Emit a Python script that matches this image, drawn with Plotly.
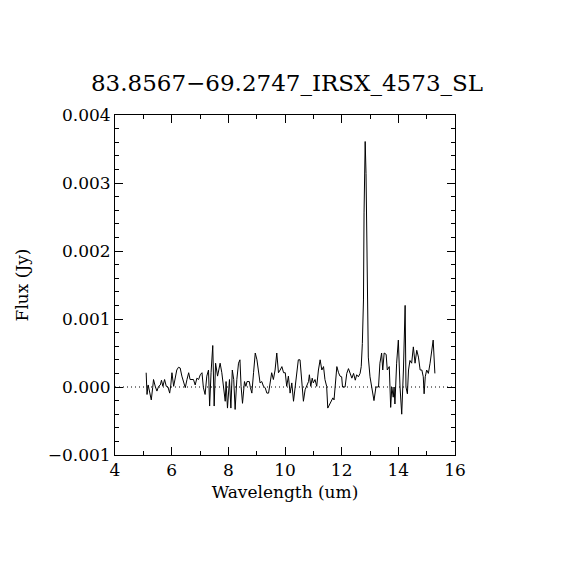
import plotly.graph_objects as go

# IRS SL spectrum
wave = [5.10, 5.13, 5.17, 5.22, 5.28, 5.33, 5.36, 5.42, 5.48, 5.54,
        5.60, 5.64, 5.69, 5.75, 5.81, 5.87, 5.93, 5.97, 6.01, 6.07,
        6.13, 6.18, 6.24, 6.30, 6.36, 6.42, 6.48, 6.54, 6.60, 6.65,
        6.71, 6.77, 6.83, 6.89, 6.95, 7.01, 7.07, 7.12, 7.18, 7.24,
        7.30, 7.34, 7.39, 7.45, 7.50, 7.55, 7.62, 7.71, 7.77, 7.83,
        7.89, 7.92, 7.97, 8.04, 8.09, 8.14, 8.19, 8.24, 8.30, 8.36,
        8.41, 8.45, 8.50, 8.57, 8.62, 8.66, 8.74, 8.78, 8.83, 8.89,
        8.95, 9.01, 9.06, 9.12, 9.18, 9.24, 9.30, 9.36, 9.42, 9.48,
        9.53, 9.59, 9.65, 9.71, 9.77, 9.83, 9.89, 9.95, 10.01, 10.06,
        10.12, 10.18, 10.24, 10.30, 10.36, 10.42, 10.47, 10.53, 10.59, 10.65,
        10.71, 10.77, 10.83, 10.86, 10.91, 10.96, 11.00, 11.06, 11.12, 11.18,
        11.24, 11.30, 11.36, 11.41, 11.47, 11.51, 11.57, 11.63, 11.69, 11.73,
        11.78, 11.83, 11.89, 11.94, 12.00, 12.03, 12.12, 12.18, 12.24, 12.30,
        12.36, 12.42, 12.48, 12.53, 12.59, 12.65, 12.69, 12.73, 12.77, 12.79,
        12.83, 12.86, 12.88, 12.91, 12.94, 13.00, 13.06, 13.14, 13.21, 13.30,
        13.35, 13.41, 13.45, 13.50, 13.57, 13.61, 13.68, 13.73, 13.77, 13.82,
        13.85, 13.88, 13.94, 14.00, 14.06, 14.12, 14.18, 14.24, 14.27, 14.32,
        14.36, 14.41, 14.47, 14.53, 14.59, 14.65, 14.71, 14.77, 14.83, 14.88,
        14.91, 14.95, 15.00, 15.06, 15.12, 15.18, 15.23, 15.29]

# flux in units of 1e-4 Jy
flux_e4 = [2.1, -1.1, 0.3, -0.6, -1.9, -0.1, 1.1, 0.1, -0.6, 0.1,
           0.3, 1.0, 0.1, 1.1, 0.1, 0.0, -0.9, 0.3, 2.1, 0.1,
           1.6, 2.5, 2.9, 2.8, 1.6, 0.6, -0.1, 1.1, 2.1, 1.1,
           1.1, 1.1, 0.3, 1.3, 1.1, 1.8, 2.1, -0.1, -1.1, 1.6,
           2.5, -2.8, 2.1, 6.1, -2.8, 3.5, 1.6, 3.5, 2.1, 0.1,
           -2.1, 0.8, -3.1, 1.1, -3.1, 2.5, 1.1, -3.3, 1.1, 3.5,
           4.0, 0.1, -2.4, 0.8, 0.1, 0.8, 0.8, -0.1, -0.9, 2.1,
           5.0, 4.0, 2.5, 0.6, 0.8, 0.1, -0.1, -0.9, -0.9, 1.1,
           2.1, 1.1, 2.5, 5.0, 2.1, 2.5, 3.0, 2.1, 2.1, 0.1,
           1.6, -0.9, 0.6, -2.1, 0.1, 3.0, 4.0, 4.0, 1.1, -2.1,
           -0.4, 0.1, 0.8, 1.8, 0.1, 1.3, 0.6, 1.1, 0.1, 2.5,
           4.0, 2.5, 3.0, 1.1, 0.1, -3.1, -2.6, -2.1, -1.6, -1.9,
           0.1, 3.0, 2.1, 1.6, 1.5, 0.0, 0.0, 2.0, 2.7, 2.0,
           1.3, 2.0, 1.0, 1.8, 1.5, 2.0, 3.0, 6.4, 12.8, 25.6,
           36.1, 31.4, 22.0, 12.3, 4.4, 1.5, -0.1, -2.0, 0.0, 0.0,
           3.5, 5.0, 2.5, 5.0, 4.8, 2.5, 3.0, -3.0, 0.0, -1.5,
           0.0, -2.5, 3.5, 6.9, 0.0, -4.0, 2.5, 12.0, 0.0, -1.0,
           2.5, 3.9, 3.5, 5.9, 3.5, 5.4, 4.4, 2.5, 2.5, 1.5,
           -1.0, 1.5, 2.5, 2.0, 3.5, 5.4, 6.9, 2.0]

flux = [v * 1e-4 for v in flux_e4]

title = "83.8567\u221269.2747_IRSX_4573_SL"
font = "DejaVu Serif"

fig = go.Figure()
fig.add_trace(go.Scatter(x=wave, y=flux, mode="lines",
                         line=dict(color="black", width=1)))

# dotted zero level
fig.add_hline(y=0, line=dict(color="black", width=1, dash="1px,3px"))

# page has an 8px body margin, so margins are shifted to compensate
fig.update_layout(
    width=570, height=570,
    paper_bgcolor="white", plot_bgcolor="white",
    margin=dict(l=107, r=123, t=107, b=123),
    showlegend=False,
    font=dict(family=font, color="black", size=17),
    title=dict(text=title, x=(287 - 8) / 570, xanchor="center", y=1 - 75 / 570, yanchor="middle",
               font=dict(family=font, size=23, color="black")),
)

fig.update_xaxes(
    range=[4, 16], tickvals=[4, 6, 8, 10, 12, 14, 16],
    showgrid=False, zeroline=False,
    showline=True, linecolor="black", linewidth=1, mirror="ticks",
    ticks="inside", ticklen=8, tickcolor="black",
    minor=dict(dtick=1, ticks="inside", ticklen=4, tickcolor="black"),
    title=dict(text="Wavelength (um)", font=dict(size=17), standoff=6),
)
fig.update_yaxes(
    range=[-0.001, 0.004], tickvals=[-0.001, 0, 0.001, 0.002, 0.003, 0.004],
    tickformat=".3f",
    showgrid=False, zeroline=False,
    showline=True, linecolor="black", linewidth=1, mirror="ticks",
    ticks="inside", ticklen=8, tickcolor="black",
    minor=dict(dtick=0.0002, ticks="inside", ticklen=4, tickcolor="black"),
    title=dict(text="Flux (Jy)", font=dict(size=17), standoff=14),
)

fig.write_html("out.html")
